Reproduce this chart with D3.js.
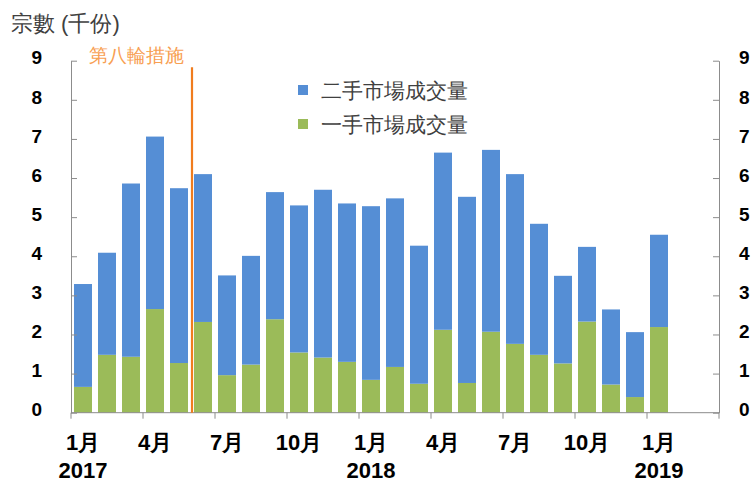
<!DOCTYPE html>
<html>
<head>
<meta charset="utf-8">
<title>Transactions</title>
<script src="https://cdnjs.cloudflare.com/ajax/libs/d3/7.8.5/d3.min.js"></script>
<style>
  body { margin: 0; background: #fff; }
  text { font-family: "Liberation Sans", Arial, sans-serif; }
</style>
</head>
<body>
<script>
// months shown on the axis (last two are empty slots)
var months = ["2017-01","2017-02","2017-03","2017-04","2017-05","2017-06","2017-07","2017-08","2017-09","2017-10","2017-11","2017-12",
              "2018-01","2018-02","2018-03","2018-04","2018-05","2018-06","2018-07","2018-08","2018-09","2018-10","2018-11","2018-12",
              "2019-01","2019-02","2019-03"];

// first-hand market volume (thousand)
var firstHand = [0.66,1.48,1.43,2.65,1.27,2.32,0.96,1.23,2.39,1.54,1.41,1.30,
                 0.84,1.17,0.74,2.12,0.76,2.07,1.76,1.48,1.26,2.33,0.72,0.40,2.19];
// second-hand market volume (thousand)
var secondHand = [2.63,2.61,4.43,4.41,4.47,3.78,2.55,2.78,3.25,3.76,4.29,4.05,
                  4.44,4.31,3.53,4.53,4.76,4.65,4.34,3.35,2.24,1.91,1.92,1.66,2.36];

var yTicks = [0,1,2,3,4,5,6,7,8,9];
var monthTicks = ["2017-01","2017-04","2017-07","2017-10","2018-01","2018-04","2018-07","2018-10","2019-01"];
var monthTickLabels = ["1月","4月","7月","10月","1月","4月","7月","10月","1月"];
var yearTicks = ["2017-01","2018-01","2019-01"];
var yearLabels = ["2017","2018","2019"];
var seriesNames = ["二手市場成交量","一手市場成交量"];
var measureMonth = "2017-06";
var measureLabel = "第八輪措施";

var W = 754, H = 483;
var mLeft = 71, mRight = 719, mTop = 60.7, mBottom = 412.7;

var svg = d3.select("body").append("svg")
  .attr("width", W).attr("height", H);

var x = d3.scaleBand().domain(months).range([mLeft, mRight])
  .paddingInner(0.25).paddingOuter(0.125);
var y = d3.scaleLinear().domain([0, 9]).range([mBottom, mTop]);

var edge = function(m) { return x(m) - (x.step() - x.bandwidth()) / 2; };

// stacked data
var rows = firstHand.map(function(f, i) {
  return { month: months[i], first: f, second: secondHand[i] };
});
var stack = d3.stack().keys(["first", "second"]);
var layers = stack(rows);
var colors = { first: "#9BBB59", second: "#558ED5" };

svg.append("g").selectAll("g")
  .data(layers).join("g")
  .attr("fill", function(d) { return colors[d.key]; })
  .selectAll("rect")
  .data(function(d) { return d; }).join("rect")
  .attr("x", function(d) { return x(d.data.month); })
  .attr("width", x.bandwidth())
  .attr("y", function(d) { return y(d[1]); })
  .attr("height", function(d) { return y(d[0]) - y(d[1]); });

// axes
var axisColor = "#8c8c8c";
var yl = svg.append("g").attr("transform", "translate(" + mLeft + ",0)")
  .call(d3.axisLeft(y).tickValues(yTicks).tickSize(-6).tickSizeOuter(0).tickPadding(29));
var yr = svg.append("g").attr("transform", "translate(" + mRight + ",0)")
  .call(d3.axisRight(y).tickValues(yTicks).tickSize(-6).tickSizeOuter(0).tickPadding(20));
[yl, yr].forEach(function(g) {
  g.selectAll("path, line").attr("stroke", axisColor);
  g.selectAll("text").attr("font-size", 19).attr("font-weight", "bold")
    .attr("fill", "#000").attr("dy", "0.17em")
    .style("font-family", "'Liberation Sans', Arial, sans-serif");
});

// x axis
var xg = svg.append("g");
xg.append("line").attr("x1", mLeft).attr("x2", mRight)
  .attr("y1", mBottom).attr("y2", mBottom).attr("stroke", axisColor);
xg.selectAll("line.tick").data(monthTicks).join("line")
  .attr("class", "tick")
  .attr("x1", function(d) { return edge(d); }).attr("x2", function(d) { return edge(d); })
  .attr("y1", mBottom).attr("y2", mBottom + 6).attr("stroke", axisColor);
xg.append("line").attr("x1", mRight).attr("x2", mRight)
  .attr("y1", mBottom).attr("y2", mBottom + 6).attr("stroke", axisColor);
xg.selectAll("text.m").data(monthTicks).join("text")
  .attr("class", "m")
  .attr("x", function(d) { return x(d) + x.bandwidth() / 2; })
  .attr("y", 450)
  .attr("text-anchor", "middle").attr("font-size", 22).attr("font-weight", "bold")
  .text(function(d, i) { return monthTickLabels[i]; });
xg.selectAll("text.yr").data(yearTicks).join("text")
  .attr("class", "yr")
  .attr("x", function(d) { return x(d) + x.bandwidth() / 2; })
  .attr("y", 478)
  .attr("text-anchor", "middle").attr("font-size", 22).attr("font-weight", "bold")
  .text(function(d, i) { return yearLabels[i]; });

// measure line
var mx = edge(measureMonth) + 1;
svg.append("line").attr("x1", mx).attr("x2", mx)
  .attr("y1", y(8.83)).attr("y2", mBottom)
  .attr("stroke", "#F07C1E").attr("stroke-width", 2.2);
svg.append("text").attr("x", 89).attr("y", 62)
  .attr("font-size", 19).attr("fill", "#F8A052")
  .text(measureLabel);

// title
svg.append("text").attr("x", 11).attr("y", 31)
  .attr("font-size", 22).attr("fill", "#404040")
  .text("宗數 (千份)");

// legend
var legend = svg.append("g").selectAll("g")
  .data(seriesNames).join("g")
  .attr("transform", function(d, i) { return "translate(298," + (85 + i * 34) + ")"; });
legend.append("rect").attr("width", 10).attr("height", 10)
  .attr("fill", function(d, i) { return i === 0 ? colors.second : colors.first; });
legend.append("text").attr("x", 23).attr("y", 12.5)
  .attr("font-size", 21).attr("fill", "#404040")
  .text(function(d) { return d; });
</script>
</body>
</html>
